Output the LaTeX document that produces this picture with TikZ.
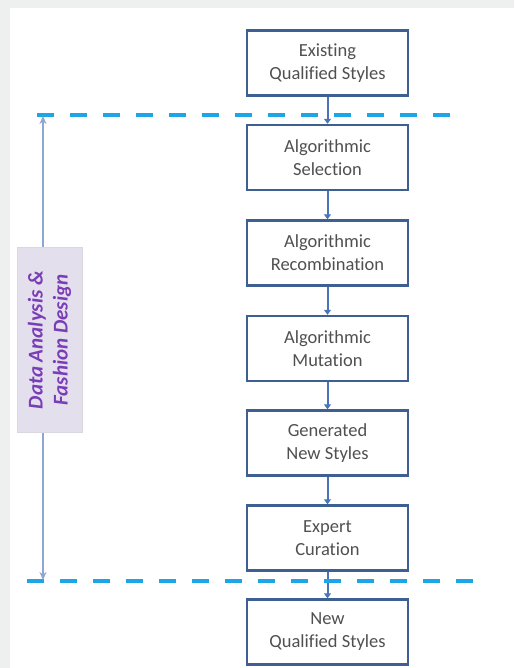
\documentclass[tikz,border=0pt]{standalone}
\usepackage{fontspec}
\setmainfont{Carlito}[Ligatures=NoCommon]
\usetikzlibrary{arrows.meta}
\definecolor{bggray}{HTML}{EEF0F0}
\definecolor{boxblue}{HTML}{3E5F91}
\definecolor{linkblue}{HTML}{4A74B8}
\definecolor{dashblue}{HTML}{1CA6E8}
\definecolor{txtgray}{HTML}{505050}
\definecolor{sidefill}{HTML}{E4DFEC}
\definecolor{sidetext}{HTML}{7A3DB8}
\definecolor{spanblue}{HTML}{8EA6D2}
\tikzset{
  x=1pt, y=-1pt,
  stepbox/.style={draw=boxblue, line width=2.4pt, fill=white, minimum width=161pt, minimum height=65pt, inner sep=0pt, align=center, font=\fontsize{18.5}{23}\selectfont, text=txtgray},
  link/.style={draw=linkblue, line width=2pt, -{Triangle[length=5pt,width=7pt]}},
  sepline/.style={draw=dashblue, line width=3.5pt, dash pattern=on 17pt off 16pt},
  span/.style={draw=spanblue, line width=1.4pt, {Stealth[length=8pt,width=7pt]}-{Stealth[length=8pt,width=7pt]}}
}
\begin{document}
\begin{tikzpicture}
\useasboundingbox (0,0) rectangle (514,668);
\fill[bggray] (0,0) rectangle (514,668);
\fill[white] (10,8) rectangle (514,668);

\node[stepbox] (s1) at (327.5,63) {Existing\\Qualified Styles};
\node[stepbox] (s2) at (327.5,157.5) {Algorithmic\\Selection};
\node[stepbox] (s3) at (327.5,253) {Algorithmic\\Recombination};
\node[stepbox] (s4) at (327.5,348.5) {Algorithmic\\Mutation};
\node[stepbox] (s5) at (327.5,443) {Generated\\New Styles};
\node[stepbox] (s6) at (327.5,538) {Expert\\Curation};
\node[stepbox] (s7) at (327.5,632) {New\\Qualified Styles};

\draw[link] (s1) -- (s2);
\draw[link] (s2) -- (s3);
\draw[link] (s3) -- (s4);
\draw[link] (s4) -- (s5);
\draw[link] (s5) -- (s6);
\draw[link] (s6) -- (s7);

\coordinate (t1) at (37,115);
\coordinate (t2) at (460,115);
\coordinate (b1) at (27,581);
\coordinate (b2) at (482,581);
\draw[sepline] (t1) -- (t2);
\draw[sepline] (b1) -- (b2);

\coordinate (a1) at (43,116);
\coordinate (a2) at (43,580);
\draw[span] (a1) -- (a2);

\node[draw=sidefill!85!black!60, fill=sidefill, line width=0.5pt, minimum width=185pt, minimum height=65pt, rotate=90, align=center, inner sep=0pt, font=\fontsize{21}{25}\selectfont\bfseries\itshape, text=sidetext] (side) at (49.5,340) {Data Analysis \&\\Fashion Design};
\end{tikzpicture}
\end{document}
